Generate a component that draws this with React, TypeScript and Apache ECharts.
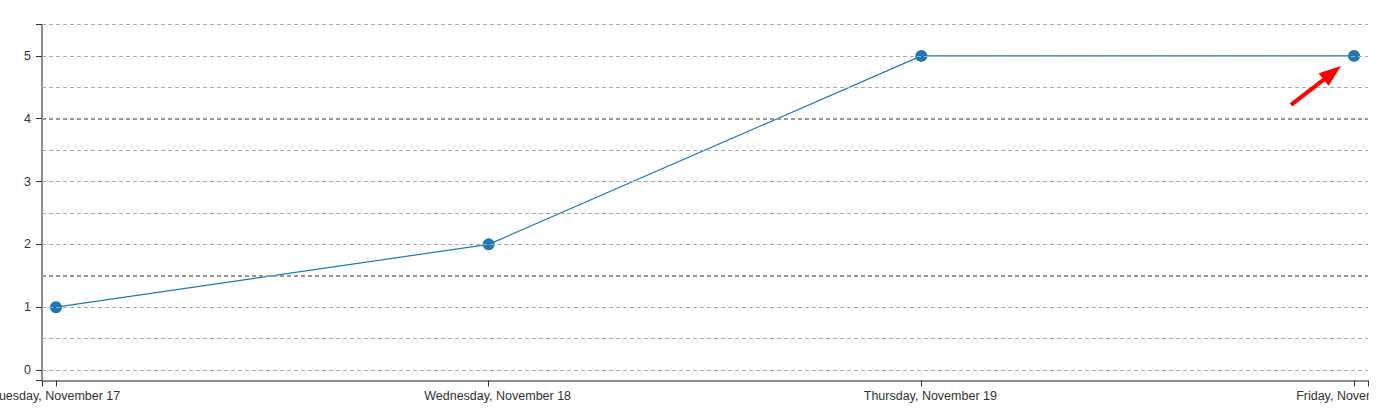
import React, { useEffect, useRef } from "react";
import * as echarts from "echarts";

const categories = [
  "Tuesday, November 17",
  "Wednesday, November 18",
  "Thursday, November 19",
  "Friday, November 20",
];
const xIndex = [0, 1, 2, 3];
const values = [1, 2, 5, 5];
const yTickValues = [0, 1, 2, 3, 4, 5];
const gridValues = [0, 0.5, 1, 1.5, 2, 2.5, 3, 3.5, 4, 4.5, 5, 5.5];
const strongGridValues = [1.5, 4];
const xMin = -0.0323;
const xMax = 3.0323;
const yMin = -0.167;
const yMax = 5.5;

export default function App() {
  const ref = useRef<HTMLDivElement>(null);
  useEffect(() => {
    const chart = echarts.init(ref.current!, null, { renderer: "svg" });
    const font = "'Liberation Sans', Arial, sans-serif";
    chart.setOption({
      animation: false,
      grid: {
        left: 42,
        right: 1,
        top: 24.5,
        bottom: 30.5,
        containLabel: false,
        outerBoundsMode: "none",
      },
      xAxis: {
        type: "value",
        min: xMin,
        max: xMax,
        axisLine: { show: true, onZero: false, lineStyle: { color: "#666", width: 1.5 } },
        axisTick: {
          show: true,
          customValues: [xMin, ...xIndex, xMax],
          length: 6,
          lineStyle: { color: "#333", width: 1 },
        },
        axisLabel: {
          customValues: xIndex,
          formatter: (v: number) => {
            const i = Math.round(v);
            const t = categories[i];
            return i === 0 || i === categories.length - 1 ? `{a|${t}}` : `{b|${t}}`;
          },
          color: "#333",
          fontFamily: font,
          fontSize: 12.5,
          margin: 9,
          rich: {
            a: { color: "#333", fontFamily: font, fontSize: 12.5 },
            b: { color: "#333", fontFamily: font, fontSize: 12.5, padding: [0, 0, 0, 18] },
          },
        },
        splitLine: { show: false },
      },
      yAxis: {
        type: "value",
        min: yMin,
        max: yMax,
        axisLine: { show: true, onZero: false, lineStyle: { color: "#666", width: 1.5 } },
        axisTick: {
          show: true,
          customValues: [yMin, ...yTickValues, yMax],
          length: 6,
          lineStyle: { color: "#333", width: 1 },
        },
        axisLabel: {
          customValues: yTickValues,
          color: "#333",
          fontFamily: font,
          fontSize: 12.5,
          margin: 11,
        },
        splitLine: { show: false },
      },
      series: [
        {
          type: "line",
          z: 1,
          data: xIndex.map((x, i) => [x, values[i]]),
          symbol: "none",
          lineStyle: { opacity: 0 },
          silent: true,
          markLine: {
            silent: true,
            symbol: "none",
            label: { show: false },
            animation: false,
            data: gridValues.map((v) => ({
              yAxis: v,
              lineStyle: {
                color: strongGridValues.includes(v) ? "#999" : "#aaa",
                width: strongGridValues.includes(v) ? 1.8 : 1,
                type: [4, 3],
              },
            })),
          },
        },
        {
          type: "line",
          z: 3,
          data: xIndex.map((x, i) => [x, values[i]]),
          symbol: "circle",
          symbolSize: 12,
          itemStyle: { color: "#1f77b4" },
          lineStyle: { color: "#1f77b4", width: 1.2 },
        },
      ],
    });
    const p = chart.convertToPixel({ xAxisIndex: 0, yAxisIndex: 0 }, [xIndex[3], values[3]]) as number[];
    const [px, py] = p;
    chart.setOption({
      graphic: [
        {
          type: "line",
          shape: { x1: px - 63, y1: py + 49, x2: px - 28, y2: py + 22 },
          style: { stroke: "#ff0000", lineWidth: 4 },
          z: 10,
        },
        {
          type: "polygon",
          shape: {
            points: [
              [px - 13, py + 10],
              [px - 35.4, py + 17.3],
              [px - 25.4, py + 29.9],
            ],
          },
          style: { fill: "#ff0000" },
          z: 10,
        },
      ],
    });
    return () => chart.dispose();
  }, []);
  return (
    <div
      ref={ref}
      style={{ position: "absolute", left: 0, top: 0, width: 1369, height: 411 }}
    />
  );
}
